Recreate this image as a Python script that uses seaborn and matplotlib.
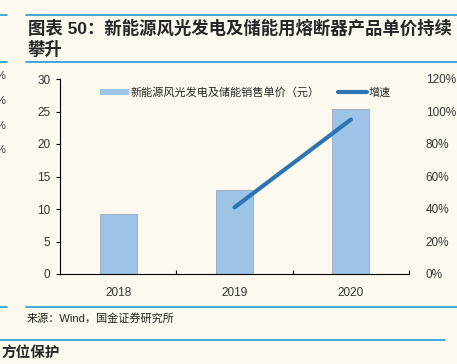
import pandas as pd
import matplotlib.pyplot as plt
import seaborn as sns
from matplotlib.lines import Line2D
from matplotlib.patches import Patch

years = ["2018", "2019", "2020"]
unit_price = [9.2, 13.0, 25.4]
growth = [None, 0.41, 0.95]

price_label = "新能源风光发电及储能销售单价（元）"
growth_label = "增速"
title_line1 = "图表 50：新能源风光发电及储能用熔断器产品单价持续"
title_line2 = "攀升"
source_text = "来源：Wind，国金证券研究所"
footer_text = "方位保护"

bg = "#fdf9ef"
bar_color = "#9dc3e6"
line_color = "#2e75b6"
rule_color = "#1f9bd7"

sns.set_theme(style="white")
plt.rcParams["font.family"] = ["Liberation Sans", "Noto Sans CJK SC", "DejaVu Sans"]
plt.rcParams["axes.unicode_minus"] = False

W, H = 457, 364
fig = plt.figure(figsize=(W / 100, H / 100), dpi=100)
fig.patch.set_facecolor(bg)


def px(x, y):
    return x / W, 1 - y / H


# rules and header / footer text
for y, x0, x1 in [(15, 26, 457), (62, 26, 457), (307, 26, 457)]:
    fig.add_artist(Line2D([x0 / W, x1 / W], [1 - y / H] * 2, color=rule_color, lw=1.2))
for y in (15, 62, 307):
    fig.add_artist(Line2D([0, 7 / W], [1 - y / H] * 2, color=rule_color, lw=1.2))
fig.add_artist(Line2D([0, 445 / W], [1 - 340 / H] * 2, color=rule_color, lw=1.2))

fig.text(*px(28, 28), title_line1, fontsize=12.5, fontweight="bold", va="center", ha="left")
fig.text(*px(28, 49), title_line2, fontsize=12.5, fontweight="bold", va="center", ha="left")
fig.text(*px(27, 318), source_text, fontsize=8, va="center", ha="left", color="#222222")
fig.text(*px(2, 353), footer_text, fontsize=10.5, fontweight="bold", va="center", ha="left")
for y in (76, 101, 126, 150):
    fig.text(*px(5, y), "%", fontsize=8, va="center", ha="right", color="#333333")

# main chart
ax = fig.add_axes([60 / W, 1 - 274 / H, (409 - 60) / W, (274 - 79) / H])
ax.set_facecolor(bg)
df = pd.DataFrame({"year": years, "price": unit_price, "growth": growth})
sns.barplot(data=df, x="year", y="price", color=bar_color, width=0.32,
            edgecolor="#8a9bb0", linewidth=0.5, saturation=1, ax=ax)
ax.set_ylim(0, 30)
ax.set_xlim(-0.5, 2.5)
ax.set_yticks(range(0, 31, 5))
ax.set_xlabel("")
ax.set_ylabel("")
for s in ["top", "right"]:
    ax.spines[s].set_visible(False)
for s in ["left", "bottom"]:
    ax.spines[s].set_color("black")
    ax.spines[s].set_linewidth(0.8)
ax.tick_params(axis="y", left=True, direction="out", length=3, width=0.8,
               labelsize=8.5, colors="black", labelcolor="#333333", pad=4)
ax.tick_params(axis="x", bottom=False, labelsize=8.5, labelcolor="#333333", pad=3)
ax.set_xticks([0.5, 1.5, 2.5], minor=True)
ax.tick_params(axis="x", which="minor", bottom=True, direction="in", length=3, width=0.8, colors="black")

ax2 = ax.twinx()
line_df = df.dropna(subset=["growth"])
sns.lineplot(data=line_df, x="year", y="growth", color=line_color, lw=3, ax=ax2)
ax2.set_xlim(-0.5, 2.5)
ax2.set_ylim(0, 1.2)
ax2.set_yticks([i / 10 for i in range(0, 13, 2)])
ax2.set_yticklabels([f"{int(round(v * 100))}%" for v in ax2.get_yticks()])
ax2.set_ylabel("")
for s in ax2.spines.values():
    s.set_visible(False)
ax2.tick_params(axis="y", right=False, labelsize=8.5, labelcolor="#333333", pad=6)

handles = [Patch(facecolor=bar_color, edgecolor="none"),
           Line2D([0], [0], color=line_color, lw=3)]
leg = ax.legend(handles, [price_label, growth_label], loc="upper left",
                bbox_to_anchor=(0.085, 1.01), ncol=2, frameon=False, fontsize=8,
                handlelength=2.6, handleheight=0.5, handletextpad=0.2, columnspacing=1.6)

fig.savefig("out.png", dpi=100, facecolor=bg)
